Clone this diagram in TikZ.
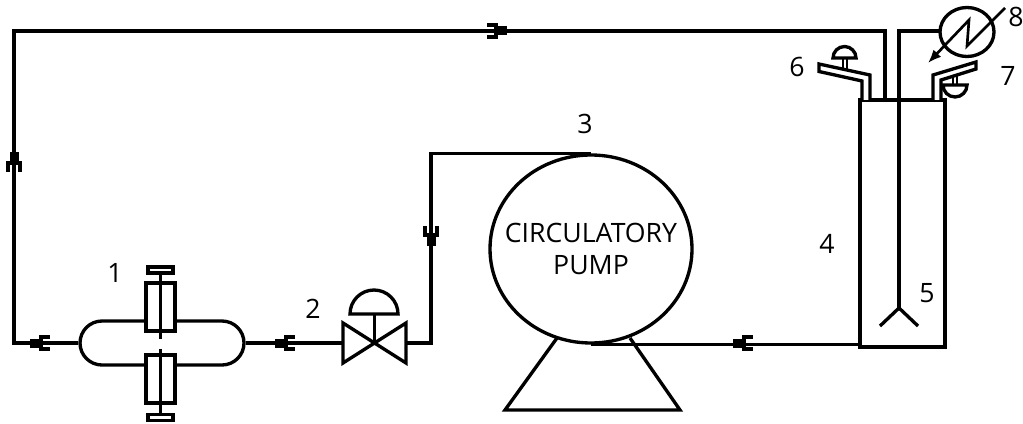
\documentclass[tikz,border=0pt]{standalone}
\usepackage{fontspec}
\setmainfont{Open Sans}
\usetikzlibrary{arrows.meta,shapes.geometric,shapes.misc}
\tikzset{
  fitting/.pic={
    \fill (-10,-4.5) rectangle (0,4.5);
    \draw[line width=2.5pt,miter limit=10] (10,-6) -- (1,-6) -- (1,6) -- (10,6);
  },
}
\begin{document}
\begin{tikzpicture}[
  x=0.75pt,y=-0.75pt,
  >={Latex[length=10pt,width=8pt]},
  pipe/.style={line width=2.5pt,line join=miter},
  part/.style={draw,fill=white,line width=2.5pt,inner sep=0pt},
  lbl/.style={font=\fontsize{20}{24}\selectfont,inner sep=0pt,align=center},
]
\useasboundingbox (0,0) rectangle (1023,424);
% bends of the piping
\coordinate (bendA) at (14,343);
\coordinate (bendB) at (14,31);
\coordinate (bendC) at (885,31);
\coordinate (bendD) at (899,31);
\coordinate (bendE) at (431,343);
\coordinate (fitA) at (40,343);
\coordinate (fitB) at (285,343);
\coordinate (fitC) at (14,162);
\coordinate (fitD) at (497,31);
\coordinate (fitE) at (431,236);
\coordinate (fitF) at (743,343);
\coordinate (valveL) at (343,343);
\coordinate (valveC) at (374.5,343);
\coordinate (valveR) at (406,343);
\coordinate (heaterIn) at (941,31);
\coordinate (stirEnd) at (899,308);
% base goes under the pump
\draw[pipe] (557,338) -- (505,410) -- (680,410) -- (630,338);
\node[part,ellipse,minimum width=151.5pt,minimum height=141pt] (pump) at (591,249) {};
\node[lbl] (pumpText) at (591,249) {CIRCULATORY\\PUMP};
\node[part,minimum width=63.75pt,minimum height=185.25pt] (tank) at (902.5,223.5) {};
\node[part,rounded rectangle,minimum width=123pt,minimum height=33pt] (filter) at (162,343) {};
% filter
\node[part,minimum width=21.75pt,minimum height=36pt] (capU) at (160.5,307) {};
\node[part,minimum width=21.75pt,minimum height=36pt] (capD) at (160.5,379) {};
\node[part,minimum width=18.75pt,minimum height=4.5pt] (knobU) at (160.5,270) {};
\node[part,minimum width=18.75pt,minimum height=4.5pt] (knobD) at (160.5,417.5) {};
\draw[pipe] (knobU.south) -- (160.5,339);
\draw[pipe] (160.5,349) -- (knobD.north);
% piping
\draw[pipe] (filter.west) -- (bendA) -- (bendB) -- (bendC) -- (885,100);
\draw[pipe] (filter.east) -- (valveL);
\draw[pipe] (valveR) -- (bendE) -- (bendE |- pump.north) -- (pump.north);
\draw[pipe] (pump.south) -- (tank.south west |- pump.south);
\draw[pipe] (heaterIn) -- (bendD) -- (stirEnd);
\draw[pipe] (880,326) -- (stirEnd) -- (918,326);
\pic at (fitA) {fitting};
\pic at (fitB) {fitting};
\pic[rotate=-90] at (fitC) {fitting};
\pic[rotate=180] at (fitD) {fitting};
\pic[rotate=90] at (fitE) {fitting};
\pic at (fitF) {fitting};
% control valve
\draw[pipe] (valveL) -- (343,323) -- (406,363) -- (406,323) -- (343,363) -- cycle;
\draw[pipe] (valveC) -- (374.5,314);
\draw[pipe] (350,314) arc[start angle=180,end angle=360,radius=24] -- cycle;
% safety valves
\draw[pipe,fill=white] (862,100) -- (862,81) -- (819,71.5) -- (819,64) -- (870,75) -- (870,100);
\draw[line width=1.9pt] (843,68) -- (843,58) (847,58) -- (847,69);
\draw[pipe] (833,58) arc[start angle=180,end angle=360,radius=11.5] -- cycle;
\draw[pipe,fill=white] (933,100) -- (933,75) -- (976,62) -- (976,69) -- (941,80) -- (941,100);
\draw[line width=1.9pt] (953,85) -- (953,75) (957,85) -- (957,74);
\draw[pipe] (943,85) arc[start angle=180,end angle=0,radius=12] -- cycle;
% heater
\node[part,ellipse,minimum width=40.5pt,minimum height=36.75pt] (heater) at (967,32) {};
\draw[line width=2pt,->] (1005,8) -- (967,46) -- (969,20) -- (928,63);
% numbers
\node[lbl] (n1) at (115,273) {1};
\node[lbl] (n2) at (313,309) {2};
\node[lbl] (n3) at (585,124) {3};
\node[lbl] (n4) at (827,244) {4};
\node[lbl] (n5) at (927,293) {5};
\node[lbl] (n6) at (797,67) {6};
\node[lbl] (n7) at (1008,76) {7};
\node[lbl] (n8) at (1016,17) {8};
\end{tikzpicture}
\end{document}
